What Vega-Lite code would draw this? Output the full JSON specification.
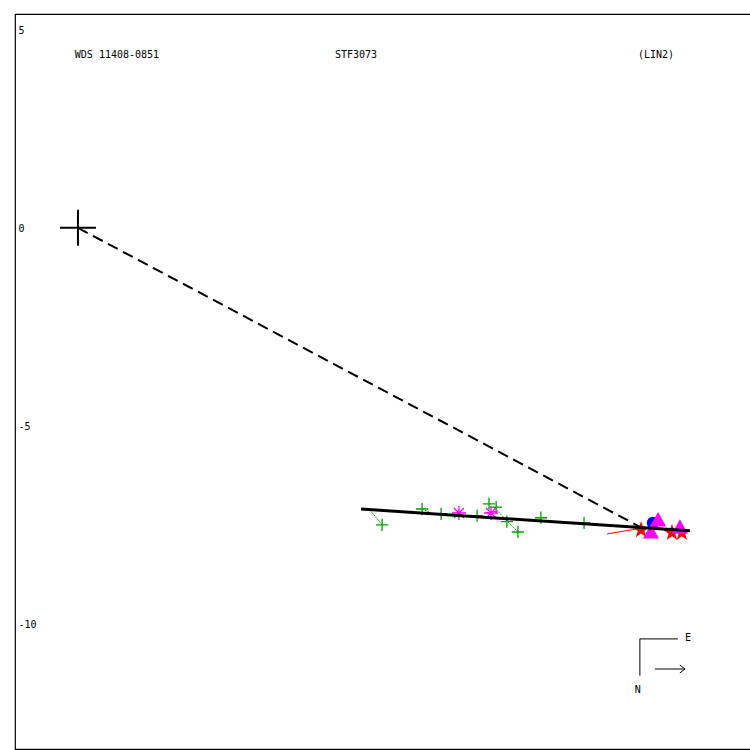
{
  "$schema": "https://vega.github.io/schema/vega-lite/v6.json",
  "width": 736,
  "height": 735,
  "autosize": {"type": "none"},
  "padding": {"left": 15, "top": 14, "right": -1, "bottom": 1},
  "background": "white",
  "config": {"view": {"stroke": "black", "strokeWidth": 1.2}},
  "datasets": {
    "obs": [
      {"x": 7.68, "y": -7.50, "type": "plus"},
      {"x": 8.69, "y": -7.10, "type": "plus"},
      {"x": 9.17, "y": -7.22, "type": "plus"},
      {"x": 10.08, "y": -7.27, "type": "plus"},
      {"x": 10.38, "y": -6.97, "type": "plus"},
      {"x": 10.56, "y": -7.05, "type": "plus"},
      {"x": 10.83, "y": -7.42, "type": "plus"},
      {"x": 11.11, "y": -7.68, "type": "plus"},
      {"x": 11.69, "y": -7.32, "type": "plus"},
      {"x": 12.78, "y": -7.45, "type": "plus"},
      {"x": 9.62, "y": -7.20, "type": "asterisk"},
      {"x": 10.43, "y": -7.20, "type": "asterisk"},
      {"x": 14.22, "y": -7.63, "type": "star"},
      {"x": 15.00, "y": -7.70, "type": "star"},
      {"x": 15.25, "y": -7.70, "type": "star"},
      {"x": 14.52, "y": -7.45, "type": "circle"},
      {"x": 14.65, "y": -7.38, "type": "triangle"},
      {"x": 14.47, "y": -7.68, "type": "triangle"},
      {"x": 15.20, "y": -7.56, "type": "triangle"}
    ],
    "connectors": [
      {"x": 7.37, "y": -7.12, "x2": 7.68, "y2": -7.50, "c": "green"},
      {"x": 8.69, "y": -7.10, "x2": 8.91, "y2": -7.20, "c": "green"},
      {"x": 10.50, "y": -7.05, "x2": 11.11, "y2": -7.68, "c": "green"},
      {"x": 10.30, "y": -7.20, "x2": 10.60, "y2": -7.15, "c": "magenta"},
      {"x": 13.36, "y": -7.73, "x2": 14.14, "y2": -7.60, "c": "red"}
    ],
    "fit": [
      {"x": 7.15, "y": -7.10},
      {"x": 15.45, "y": -7.65}
    ],
    "dash": [
      {"x": 0, "y": 0},
      {"x": 14.19, "y": -7.55}
    ],
    "origin": [{"x": 0, "y": 0}],
    "compass": [
      {"x": 14.19, "y": -10.38, "x2": 15.15, "y2": -10.38},
      {"x": 14.19, "y": -10.38, "x2": 14.19, "y2": -11.31},
      {"x": 14.57, "y": -11.14, "x2": 15.33, "y2": -11.14},
      {"x": 15.20, "y": -11.04, "x2": 15.33, "y2": -11.14},
      {"x": 15.20, "y": -11.24, "x2": 15.33, "y2": -11.14}
    ],
    "labels": [
      {"x": -0.08, "y": 4.37, "t": "WDS 11408-0851"},
      {"x": 6.49, "y": 4.37, "t": "STF3073"},
      {"x": 14.14, "y": 4.37, "t": "(LIN2)"},
      {"x": 15.33, "y": -10.35, "t": "E"},
      {"x": 14.06, "y": -11.67, "t": "N"}
    ]
  },
  "layer": [
    {
      "data": {"name": "connectors"},
      "transform": [{"filter": "datum.c === 'green'"}],
      "mark": {"type": "rule", "color": "#00a000", "strokeWidth": 1, "strokeDash": [2, 1]},
      "encoding": {
        "x": {"field": "x", "type": "quantitative", "scale": {"domain": [-1.59, 16.996], "nice": false, "zero": false}, "axis": null},
        "y": {"field": "y", "type": "quantitative", "scale": {"domain": [-13.16, 5.40], "nice": false, "zero": false},
          "axis": {"orient": "left", "values": [5, 0, -5, -10], "domain": false, "ticks": false, "grid": false, "labelAlign": "left", "labelBaseline": "middle", "labelPadding": -3, "labelOffset": 1, "labelFont": "DejaVu Sans Mono", "labelFontSize": 10, "labelColor": "black", "labelExpr": "datum.value + ''", "title": null, "labelFlush": false}},
        "x2": {"field": "x2"},
        "y2": {"field": "y2"}
      }
    },
    {
      "data": {"name": "obs"},
      "transform": [{"filter": "datum.type === 'plus'"}],
      "mark": {"type": "point", "shape": "M-1,0H1M0,-1V1", "size": 150, "stroke": "#00a000", "strokeWidth": 1.3, "filled": false, "opacity": 1},
      "encoding": {"x": {"field": "x", "type": "quantitative"}, "y": {"field": "y", "type": "quantitative"}}
    },
    {
      "data": {"name": "connectors"},
      "transform": [{"filter": "datum.c !== 'green'"}],
      "mark": {"type": "rule", "strokeWidth": 1},
      "encoding": {
        "x": {"field": "x", "type": "quantitative"},
        "y": {"field": "y", "type": "quantitative"},
        "x2": {"field": "x2"},
        "y2": {"field": "y2"},
        "color": {"field": "c", "type": "nominal", "scale": {"domain": ["magenta", "red"], "range": ["#ff00ff", "#ff0000"]}, "legend": null}
      }
    },
    {
      "data": {"name": "obs"},
      "transform": [{"filter": "datum.type === 'asterisk'"}],
      "mark": {"type": "point", "shape": "M-1,0H1M0,-1V1M-0.7,-0.7L0.7,0.7M-0.7,0.7L0.7,-0.7", "size": 200, "stroke": "#ff00ff", "strokeWidth": 1.3, "filled": false, "opacity": 1},
      "encoding": {"x": {"field": "x", "type": "quantitative"}, "y": {"field": "y", "type": "quantitative"}}
    },
    {
      "data": {"name": "obs"},
      "transform": [{"filter": "datum.type === 'star'"}],
      "mark": {"type": "point", "shape": "M0,-1L0.224,-0.309L0.951,-0.309L0.363,0.118L0.588,0.809L0,0.382L-0.588,0.809L-0.363,0.118L-0.951,-0.309L-0.224,-0.309Z", "size": 324, "fill": "#ff0000", "filled": true, "strokeWidth": 0, "opacity": 1},
      "encoding": {"x": {"field": "x", "type": "quantitative"}, "y": {"field": "y", "type": "quantitative"}}
    },
    {
      "data": {"name": "obs"},
      "transform": [{"filter": "datum.type === 'circle'"}],
      "mark": {"type": "point", "shape": "circle", "size": 150, "fill": "#0000ff", "filled": true, "strokeWidth": 0, "opacity": 1},
      "encoding": {"x": {"field": "x", "type": "quantitative"}, "y": {"field": "y", "type": "quantitative"}}
    },
    {
      "data": {"name": "obs"},
      "transform": [{"filter": "datum.type === 'triangle'"}],
      "mark": {"type": "point", "shape": "M0,-1L1,0.8L-1,0.8Z", "size": 256, "fill": "#ff00ff", "filled": true, "strokeWidth": 0, "opacity": 1},
      "encoding": {"x": {"field": "x", "type": "quantitative"}, "y": {"field": "y", "type": "quantitative"}}
    },
    {
      "data": {"name": "fit"},
      "mark": {"type": "line", "color": "black", "strokeWidth": 3},
      "encoding": {"x": {"field": "x", "type": "quantitative"}, "y": {"field": "y", "type": "quantitative"}}
    },
    {
      "data": {"name": "dash"},
      "mark": {"type": "line", "color": "black", "strokeWidth": 2, "strokeDash": [11, 6]},
      "encoding": {"x": {"field": "x", "type": "quantitative"}, "y": {"field": "y", "type": "quantitative"}}
    },
    {
      "data": {"name": "origin"},
      "mark": {"type": "point", "shape": "M-1,0H1M0,-1V1", "size": 1296, "stroke": "black", "strokeWidth": 2, "filled": false, "opacity": 1},
      "encoding": {"x": {"field": "x", "type": "quantitative"}, "y": {"field": "y", "type": "quantitative"}}
    },
    {
      "data": {"name": "compass"},
      "mark": {"type": "rule", "color": "black", "strokeWidth": 1},
      "encoding": {
        "x": {"field": "x", "type": "quantitative"},
        "y": {"field": "y", "type": "quantitative"},
        "x2": {"field": "x2"},
        "y2": {"field": "y2"}
      }
    },
    {
      "data": {"name": "labels"},
      "mark": {"type": "text", "align": "left", "baseline": "middle", "font": "DejaVu Sans Mono", "fontSize": 10, "color": "black"},
      "encoding": {"x": {"field": "x", "type": "quantitative"}, "y": {"field": "y", "type": "quantitative"}, "text": {"field": "t"}}
    }
  ]
}
